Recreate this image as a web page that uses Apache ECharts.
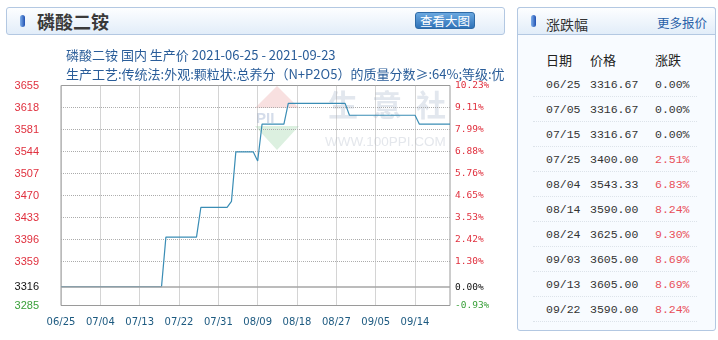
<!DOCTYPE html>
<html><head><meta charset="utf-8">
<script src="https://cdn.jsdelivr.net/npm/echarts@6/dist/echarts.min.js"></script>
<style>
html,body{margin:0;padding:0;width:718px;height:340px;background:#fff;overflow:hidden;font-family:"Noto Sans CJK SC",sans-serif;}
.abs{position:absolute;}
.hdr{position:absolute;box-sizing:border-box;border:1px solid #b3c8e2;border-radius:3px;background:linear-gradient(#fdfeff,#e2edf9);}
.pill{position:absolute;width:5px;height:12px;border-radius:3px;background:linear-gradient(90deg,#7fb0ec,#1f4fb0);}
.cell{position:absolute;font-family:"Liberation Mono",monospace;font-size:11.5px;color:#333;line-height:14px;white-space:nowrap;}
.sep{position:absolute;left:533px;width:164px;height:0;border-top:1px dotted #dde3ea;}
</style></head><body>
<div class="hdr" style="left:6px;top:7px;width:499px;height:28px;"></div>
<div class="pill" style="left:20px;top:15px;"></div>
<div class="abs" style="left:37px;top:9px;font-size:18px;font-weight:bold;color:#3a3a3a;line-height:24px;">磷酸二铵</div>
<div class="abs" style="left:415px;top:12px;width:60px;height:17px;box-sizing:border-box;border:1px solid #2e6aa6;border-radius:3px;background:linear-gradient(#6aa8e0,#2f72b8);color:#fff;font-size:12.5px;line-height:15px;text-align:center;">查看大图</div>

<div class="abs" style="left:517px;top:7px;width:199px;height:324px;box-sizing:border-box;border:1px solid #b3c8e2;border-radius:3px;background:#f8fbff;"></div>
<div class="hdr" style="left:517px;top:7px;width:199px;height:28px;border-radius:3px 3px 0 0;"></div>
<div class="pill" style="left:531px;top:15px;"></div>
<div class="abs" style="left:546px;top:14px;font-size:14px;color:#333;line-height:20px;">涨跌幅</div>
<div class="abs" style="left:657px;top:13px;font-size:12.5px;color:#2860a8;line-height:20px;">更多报价</div>
<div id="tbl"></div>

<div id="chart" class="abs" style="left:0;top:0;width:510px;height:340px;"></div>
<script>
// ---- data ----
const dates = [
 '06/25','06/26','06/27','06/28','06/29','06/30',
 '07/01','07/02','07/03','07/04','07/05','07/06','07/07','07/08','07/09','07/10',
 '07/11','07/12','07/13','07/14','07/15','07/16','07/17','07/18','07/19','07/20',
 '07/21','07/22','07/23','07/24','07/25','07/26','07/27','07/28','07/29','07/30','07/31',
 '08/01','08/02','08/03','08/04','08/05','08/06','08/07','08/08','08/09','08/10',
 '08/11','08/12','08/13','08/14','08/15','08/16','08/17','08/18','08/19','08/20',
 '08/21','08/22','08/23','08/24','08/25','08/26','08/27','08/28','08/29','08/30','08/31',
 '09/01','09/02','09/03','09/04','09/05','09/06','09/07','09/08','09/09','09/10',
 '09/11','09/12','09/13','09/14','09/15','09/16','09/17','09/18','09/19','09/20','09/21','09/22'
];
const prices = [
 3316.67,3316.67,3316.67,3316.67,3316.67,3316.67,
 3316.67,3316.67,3316.67,3316.67,3316.67,3316.67,3316.67,3316.67,3316.67,3316.67,
 3316.67,3316.67,3316.67,3316.67,3316.67,3316.67,3316.67,3316.67,3400,3400,
 3400,3400,3400,3400,3400,3400,3450,3450,3450,3450,3450,
 3450,3450,3460,3543.33,3543.33,3543.33,3543.33,3543.33,3528,3590,
 3590,3590,3590,3590,3590,3625,3625,3625,3625,3625,
 3625,3625,3625,3625,3625,3625,3625,3625,3625,3605,3605,
 3605,3605,3605,3605,3605,3605,3605,3605,3605,3605,
 3605,3605,3605,3605,3590,3590,3590,3590,3590,3590,3590,3590
];
const leftTicks = [3285,3316,3359,3396,3433,3470,3507,3544,3581,3618,3655];
const rightTicks = ['-0.93%','0.00%','1.30%','2.42%','3.53%','4.65%','5.76%','6.88%','7.99%','9.11%','10.23%'];
const gridValues = [3359,3396,3433,3470,3507,3544,3581,3618];
const baseValue = 3316;
const tableDates = ['06/25','07/05','07/15','07/25','08/04','08/14','08/24','09/03','09/13','09/22'];
const tablePrices = ['3316.67','3316.67','3316.67','3400.00','3543.33','3590.00','3625.00','3605.00','3605.00','3590.00'];
const tableChanges = ['0.00%','0.00%','0.00%','2.51%','6.83%','8.24%','9.30%','8.69%','8.69%','8.24%'];
const title1 = '磷酸二铵 国内 生产价 2021-06-25 - 2021-09-23';
const title2 = '生产工艺:传统法:外观:颗粒状:总养分（N+P2O5）的质量分数≥:64%;等级:优';

// ---- table ----
(function(){
  const t = document.getElementById('tbl');
  let h = '';
  const hs = 'position:absolute;font-size:13px;color:#222;line-height:18px;top:51px;';
  h += '<div style="'+hs+'left:546px">日期</div><div style="'+hs+'left:590px">价格</div><div style="'+hs+'left:655px">涨跌</div>';
  for (let i=0;i<tableDates.length;i++){
    const y = 78 + i*25;
    const c = tableChanges[i];
    const col = parseFloat(c) > 0 ? '#e8505a' : (parseFloat(c) < 0 ? '#3a9a3a' : '#333');
    h += '<div class="cell" style="left:546px;top:'+y+'px">'+tableDates[i]+'</div>';
    h += '<div class="cell" style="left:590px;top:'+y+'px">'+tablePrices[i]+'</div>';
    h += '<div class="cell" style="left:655px;top:'+y+'px;color:'+col+'">'+c+'</div>';
    h += '<div class="sep" style="top:'+(y+18)+'px"></div>';
  }
  t.innerHTML = h;
})();

// ---- chart ----
const chart = echarts.init(document.getElementById('chart'), null, {renderer:'canvas'});
function leftColor(v){ return v > baseValue ? '#e0303e' : (v < baseValue ? '#3aa03a' : '#111'); }
const yMin = 3285, yMax = 3655;
const gridSeries = gridValues.map(function(v){
  return {type:'line',data:dates.map(function(){return v;}),z:1,silent:true,symbol:'none',showSymbol:false,
          lineStyle:{color:'#aaaaaa',type:'dotted',width:1},tooltip:{show:false}};
});
chart.setOption({
  animation:false,
  title:[
    {text:title1,left:61,top:44,textStyle:{fontSize:13,fontWeight:'normal',color:'#2a5d99',fontFamily:'Noto Sans CJK SC'}},
    {text:title2,left:61,top:63,textStyle:{fontSize:13,fontWeight:'normal',color:'#2a5d99',fontFamily:'Noto Sans CJK SC'}}
  ],
  grid:{left:61,top:85.5,width:389,height:220,show:true,borderColor:'#9a9a9a',borderWidth:1,backgroundColor:'transparent',containLabel:false},
  graphic:[
    {type:'polygon',silent:true,z:0,shape:{points:[[277,86],[299,108],[255,108]]},style:{fill:'#f8e0e0'}},
    {type:'polygon',silent:true,z:0,shape:{points:[[255,126],[299,126],[277,150]]},style:{fill:'#dcf0e0'}},
    {type:'text',silent:true,z:0,x:256,y:111,style:{text:'PII',font:'bold 15px "Liberation Sans"',fill:'#d4dcea'}},
    {type:'text',silent:true,z:0,x:328,y:90,style:{text:'生',font:'bold 30px "Noto Sans CJK SC"',fill:'#e2e7ee'}},
    {type:'text',silent:true,z:0,x:372,y:90,style:{text:'意',font:'bold 30px "Noto Sans CJK SC"',fill:'#e2e7ee'}},
    {type:'text',silent:true,z:0,x:416,y:90,style:{text:'社',font:'bold 30px "Noto Sans CJK SC"',fill:'#e2e7ee'}},
    {type:'text',silent:true,z:0,x:325,y:135,style:{text:'WWW.100PPI.COM',font:'13.5px "Liberation Sans"',fill:'#e4e7ec'}}
  ],
  xAxis:{
    type:'category',data:dates,boundaryGap:false,
    axisLine:{show:false},axisTick:{show:false},
    axisLabel:{interval:8,color:'#1d5a80',fontFamily:'DejaVu Sans',fontSize:10,margin:12},
    splitLine:{show:true,interval:8,lineStyle:{color:'#aaaaaa',type:'dotted',width:1}}
  },
  yAxis:[
    {type:'value',min:yMin,max:yMax,position:'left',
     axisLine:{show:false},axisTick:{show:false},splitLine:{show:false},
     axisLabel:{customValues:leftTicks,showMinLabel:true,showMaxLabel:true,margin:22,
       fontFamily:'Liberation Sans',fontSize:11,
       formatter:function(v){return String(v);},
       color:function(v){return leftColor(Number(v));}}},
    {type:'value',min:yMin,max:yMax,position:'right',
     axisLine:{show:false},axisTick:{show:false},splitLine:{show:false},
     axisLabel:{customValues:leftTicks,showMinLabel:true,showMaxLabel:true,margin:5,
       fontFamily:'DejaVu Sans Mono',fontSize:9.5,
       formatter:function(v){const i=leftTicks.indexOf(Number(v));return i>=0?rightTicks[i]:'';},
       color:function(v){return leftColor(Number(v));}}}
  ],
  series:gridSeries.concat([
    {type:'line',data:prices,z:2,silent:true,symbol:'none',showSymbol:false,lineStyle:{opacity:0},
     markLine:{silent:true,symbol:['none','none'],label:{show:false},animation:false,
       data:[{yAxis:baseValue,lineStyle:{color:'#a6a6a6',type:'solid',width:1.5,opacity:1}}]}},
    {type:'line',data:prices,z:3,symbol:'none',showSymbol:false,
     lineStyle:{color:'#3a8db5',width:1.2}}
  ])
});
</script>
</body></html>
